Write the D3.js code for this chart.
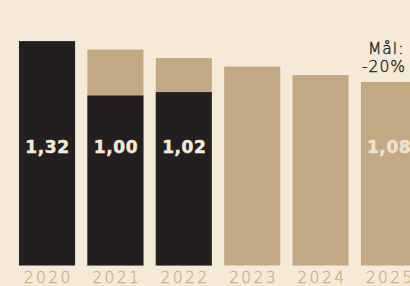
<!DOCTYPE html>
<html><head><meta charset="utf-8">
<script src="https://cdn.jsdelivr.net/npm/d3@7"></script>
<style>
html,body{margin:0;padding:0;background:#f5e9d7;overflow:hidden}
</style></head>
<body><svg id="c" width="410" height="286"></svg>
<script>
const years = ["2020","2021","2022","2023","2024","2025"];
const actual = [1.32, 1.00, 1.02, null, null, null];
const target = [null, 1.27, 1.22, 1.17, 1.12, 1.08];
const labels = ["1,32","1,00","1,02",null,null,"1,08"];
const goalText = ["Mål:", "-20%"];

const svg = d3.select("#c");
const baseline = 265.5;
const x = d3.scaleBand().domain(years).range([19, 417]).paddingInner(0.18).paddingOuter(0);
const y = d3.scaleLinear().domain([0, 1]).range([baseline, baseline - 170]);

const dark = "#231f20", tan = "#c2a883";

svg.append("g").selectAll("rect").data(years.filter((d,i)=>target[i]!=null)).join("rect")
  .attr("x", d => x(d)).attr("width", x.bandwidth())
  .attr("y", d => y(target[years.indexOf(d)]))
  .attr("height", d => baseline - y(target[years.indexOf(d)]))
  .attr("fill", tan);

svg.append("g").selectAll("rect").data(years.filter((d,i)=>actual[i]!=null)).join("rect")
  .attr("x", d => x(d)).attr("width", x.bandwidth())
  .attr("y", d => y(actual[years.indexOf(d)]))
  .attr("height", d => baseline - y(actual[years.indexOf(d)]))
  .attr("fill", dark);

svg.append("g").selectAll("text").data(years.filter((d,i)=>labels[i]!=null)).join("text")
  .attr("x", d => d==="2025" ? x(d) + 6 : x(d) + x.bandwidth()/2 + 0.5)
  .attr("y", 153)
  .attr("text-anchor", d => d==="2025" ? "start" : "middle")
  .attr("font-family", "DejaVu Sans, sans-serif")
  .attr("font-weight", "bold")
  .attr("font-size", 17)
  .attr("letter-spacing", 0.6)
  .attr("stroke", d => d==="2025" ? "#efe2cc" : "#f5e9d7")
  .attr("stroke-width", 0.5)
  .attr("fill", d => d==="2025" ? "#efe2cc" : "#f5e9d7")
  .text(d => labels[years.indexOf(d)]);

const ax = d3.axisBottom(x).tickSize(0).tickPadding(0);
const g = svg.append("g").attr("transform", `translate(0,${baseline})`).call(ax);
g.select(".domain").remove();
g.selectAll("text")
  .attr("y", 17.5)
  .attr("dy", 0)
  .attr("dx", 1.3)
  .attr("font-family", "DejaVu Sans, sans-serif")
  .attr("font-weight", 200)
  .attr("font-size", 15.5)
  .attr("letter-spacing", 2.4)
  .attr("stroke", "#c8b08c")
  .attr("stroke-width", 0.3)
  .attr("fill", "#c8b08c");

svg.append("g").selectAll("text").data(goalText).join("text")
  .attr("x", (d,i) => i===0 ? 368 : 362)
  .attr("y", (d,i) => 54 + i*18)
  .attr("font-family", "DejaVu Sans, sans-serif")
  .attr("font-weight", 200)
  .attr("font-size", 15.5)
  .attr("letter-spacing", 1.0)
  .attr("stroke", dark)
  .attr("stroke-width", 0.4)
  .attr("fill", dark)
  .text(d => d);
</script>
</body></html>
